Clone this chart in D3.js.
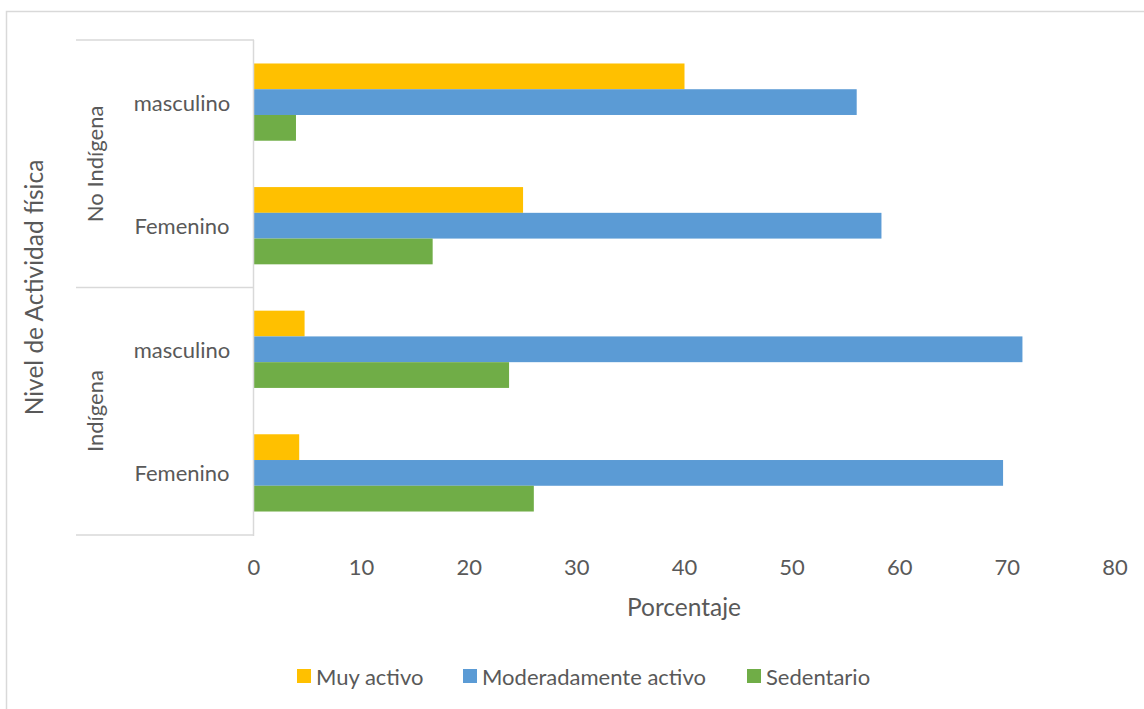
<!DOCTYPE html>
<html>
<head>
<meta charset="utf-8">
<script src="https://cdn.jsdelivr.net/npm/d3@7"></script>
<style>
	body { margin: 0; background: #fff; }
	text { font-family: Lato, "Open Sans", sans-serif; fill: #595959; }
</style>
</head>
<body>
<svg id="chart" width="1144" height="709"></svg>
<script>
// categories, bottom to top as in the source
var groups = ["Indígena", "No Indígena"];
var categories = [
	{ group: "Indígena", sex: "Femenino" },
	{ group: "Indígena", sex: "masculino" },
	{ group: "No Indígena", sex: "Femenino" },
	{ group: "No Indígena", sex: "masculino" }
];
var series = ["Muy activo", "Moderadamente activo", "Sedentario"];
var colors = ["#FFC000", "#5B9BD5", "#70AD47"];
var muyActivo = [4.2, 4.7, 25, 40];
var moderado = [69.6, 71.4, 58.3, 56];
var sedentario = [26, 23.7, 16.6, 3.9];
var xTicks = [0, 10, 20, 30, 40, 50, 60, 70, 80];

var values = [muyActivo, moderado, sedentario];
var width = 1144, height = 709;
var plot = { left: 254, right: 1115, top: 40, bottom: 535 };
var axisLeft = 76;
var lineColor = "#d9d9d9";

var svg = d3.select("#chart");

// outer chart border (cut off on the right and bottom in the source)
svg.append("rect")
	.attr("x", 6.5).attr("y", 11.5)
	.attr("width", 1200).attr("height", 800)
	.style("fill", "none").style("stroke", lineColor).style("stroke-width", 1.5);

var x = d3.scaleLinear().domain([0, 80]).range([plot.left, plot.right]);

// top row first on screen
var y = d3.scaleBand()
	.domain(d3.range(categories.length).reverse())
	.range([plot.top, plot.bottom])
	.paddingInner(0.375).paddingOuter(0.19);

var ySeries = d3.scaleBand().domain(series).range([0, y.bandwidth()]);

// bars
series.forEach(function(s, si) {
	svg.append("g").selectAll("rect")
		.data(values[si])
		.enter().append("rect")
		.attr("x", x(0))
		.attr("y", function(d, i) { return y(i) + ySeries(s); })
		.attr("width", function(d) { return x(d) - x(0); })
		.attr("height", ySeries.bandwidth())
		.style("fill", colors[si]);
});

// category axis lines
var step = (plot.bottom - plot.top) / categories.length;
svg.append("line")
	.attr("x1", plot.left - 0.5).attr("x2", plot.left - 0.5)
	.attr("y1", plot.top).attr("y2", plot.bottom + 1)
	.style("stroke", lineColor).style("stroke-width", 1.5);
[plot.top, plot.top + 2 * step, plot.bottom].forEach(function(yy) {
	svg.append("line")
		.attr("x1", axisLeft).attr("x2", plot.left)
		.attr("y1", yy).attr("y2", yy)
		.style("stroke", lineColor).style("stroke-width", 1.5);
});

// category labels
categories.forEach(function(c, i) {
	svg.append("text")
		.attr("x", 182)
		.attr("y", y(i) + y.bandwidth() / 2)
		.attr("text-anchor", "middle")
		.attr("dominant-baseline", "central")
		.style("font-size", "22px")
		.text(c.sex);
});

// group labels
groups.forEach(function(g, gi) {
	var idx = categories.map(function(c, i) { return c.group === g ? i : -1; }).filter(function(i) { return i >= 0; });
	var cy = (d3.min(idx, function(i) { return y(i); }) + d3.max(idx, function(i) { return y(i) + y.bandwidth(); })) / 2;
	svg.append("text")
		.attr("transform", "translate(94," + cy + ") rotate(-90)")
		.attr("text-anchor", "middle")
		.attr("dominant-baseline", "central")
		.style("font-size", "22px")
		.text(g);
});

// value axis labels
svg.append("g").selectAll("text")
	.data(xTicks)
	.enter().append("text")
	.attr("x", function(d) { return x(d); })
	.attr("y", 566)
	.attr("text-anchor", "middle")
	.attr("dominant-baseline", "central")
	.style("font-size", "22px")
	.text(function(d) { return d; });

// axis titles
svg.append("text")
	.attr("x", 684).attr("y", 606)
	.attr("text-anchor", "middle")
	.attr("dominant-baseline", "central")
	.style("font-size", "24.5px")
	.text("Porcentaje");

svg.append("text")
	.attr("transform", "translate(33," + (plot.top + plot.bottom) / 2 + ") rotate(-90)")
	.attr("text-anchor", "middle")
	.attr("dominant-baseline", "central")
	.style("font-size", "24.5px")
	.text("Nivel de Actividad física");

// legend
var legendX = [297, 463, 747];
series.forEach(function(s, si) {
	var g = svg.append("g").attr("transform", "translate(" + legendX[si] + ",676)");
	g.append("rect")
		.attr("x", 0).attr("y", -7)
		.attr("width", 14).attr("height", 14)
		.style("fill", colors[si]);
	g.append("text")
		.attr("x", 19).attr("y", 0)
		.attr("dominant-baseline", "central")
		.style("font-size", "22px")
		.text(s);
});
</script>
</body>
</html>
